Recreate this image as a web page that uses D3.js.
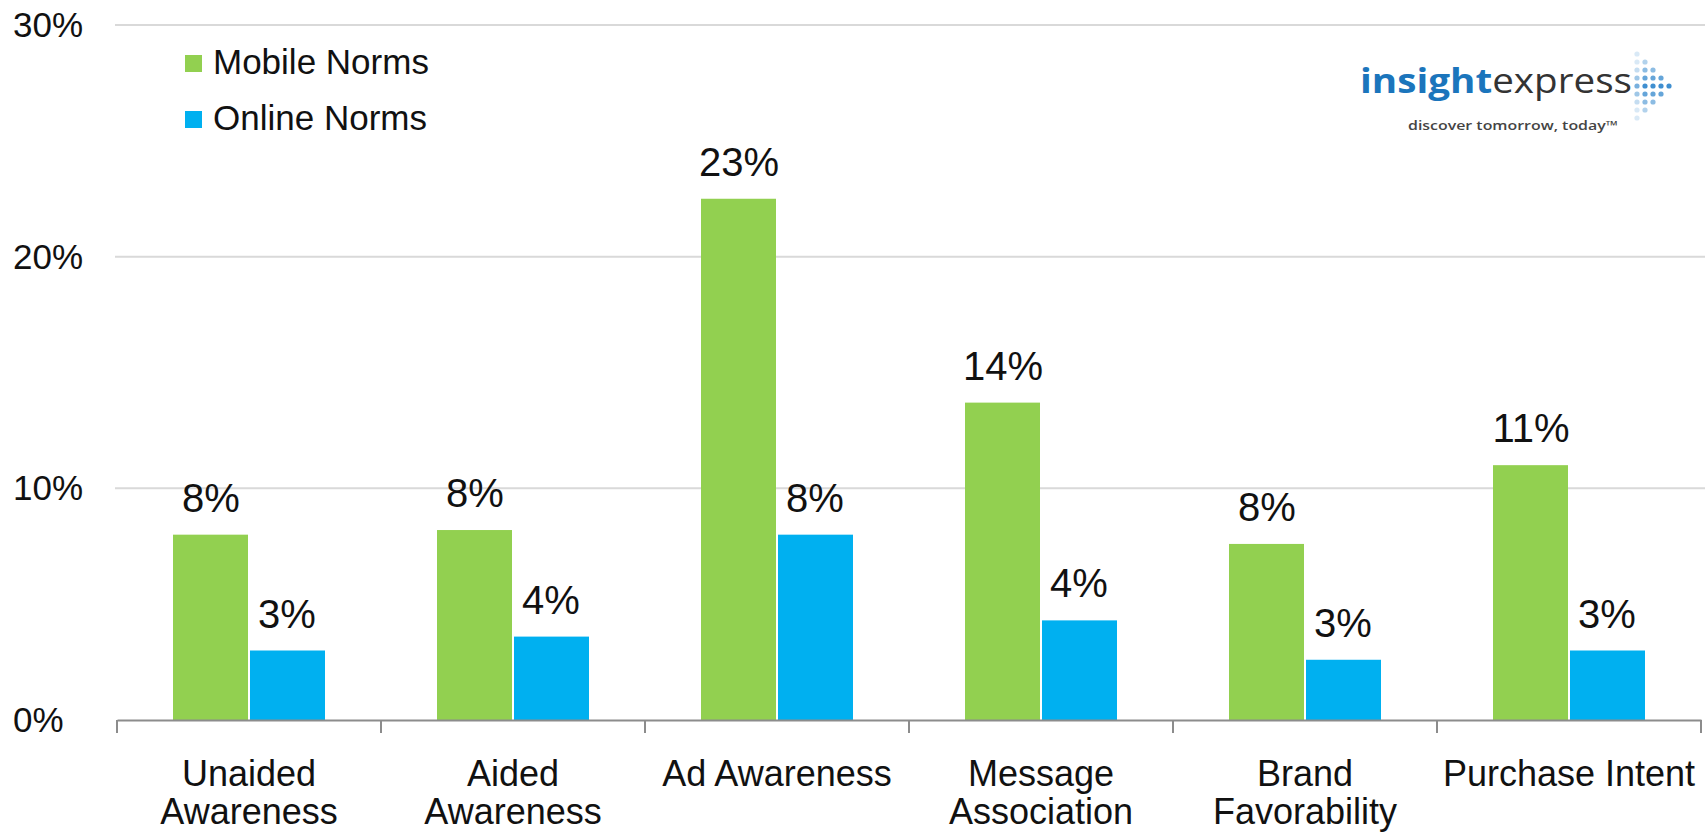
<!DOCTYPE html>
<html>
<head>
<meta charset="utf-8">
<script src="https://cdn.jsdelivr.net/npm/d3@7"></script>
<style>
  html, body { margin: 0; padding: 0; background: #fff; }
  svg { display: block; font-family: "Liberation Sans", Arial, sans-serif; }
</style>
</head>
<body>
<svg id="chart" width="1705" height="835"></svg>
<script>
const categories = ["Unaided\nAwareness", "Aided\nAwareness", "Ad Awareness", "Message\nAssociation", "Brand\nFavorability", "Purchase Intent"];
const seriesNames = ["Mobile Norms", "Online Norms"];
const mobileValues = [8.0, 8.2, 22.5, 13.7, 7.6, 11.0];
const onlineValues = [3.0, 3.6, 8.0, 4.3, 2.6, 3.0];
const yTicks = [0, 10, 20, 30];
const colors = ["#92d050", "#00b0f0"];

const svg = d3.select("#chart");
const width = 1705;

const x = d3.scaleBand()
    .domain(categories)
    .range([117, 1701]);

const x1 = d3.scaleBand()
    .domain(seriesNames)
    .range([56, 208]);

const y = d3.scaleLinear()
    .domain([0, 30])
    .range([720, 25]);

// gridlines
svg.append("g")
    .selectAll("line")
    .data(yTicks.filter(d => d > 0))
    .enter()
    .append("line")
    .attr("x1", 115)
    .attr("x2", width)
    .attr("y1", d => y(d))
    .attr("y2", d => y(d))
    .attr("stroke", "#d9d9d9")
    .attr("stroke-width", 2);

// y tick labels
svg.append("g")
    .selectAll("text")
    .data(yTicks)
    .enter()
    .append("text")
    .attr("x", 13)
    .attr("y", d => y(d) + 12)
    .text(d => d + "%")
    .style("font-size", "35px")
    .attr("fill", "#111");

// bars
const rows = categories.map((c, i) => ({ cat: c, values: [mobileValues[i], onlineValues[i]] }));

const groups = svg.append("g")
    .selectAll("g")
    .data(rows)
    .enter()
    .append("g")
    .attr("transform", d => `translate(${x(d.cat)},0)`);

groups.selectAll("rect")
    .data(d => d.values.map((v, j) => ({ name: seriesNames[j], value: v, idx: j })))
    .enter()
    .append("rect")
    .attr("x", d => x1(d.name) + (d.idx === 0 ? 0 : 1))
    .attr("width", x1.bandwidth() - 1)
    .attr("y", d => y(d.value))
    .attr("height", d => y(0) - y(d.value))
    .attr("fill", d => colors[d.idx]);

groups.selectAll("text")
    .data(d => d.values.map((v, j) => ({ name: seriesNames[j], value: v })))
    .enter()
    .append("text")
    .attr("x", d => x1(d.name) + x1.bandwidth() / 2)
    .attr("y", d => y(d.value) - 23)
    .attr("text-anchor", "middle")
    .style("font-size", "40px")
    .attr("fill", "#111")
    .text(d => Math.round(d.value) + "%");

// x axis
const xAxis = d3.axisBottom(x)
    .tickValues([])
    .tickSizeOuter(0);

const axisG = svg.append("g")
    .attr("transform", `translate(0,${y(0)})`)
    .call(xAxis);
axisG.select(".domain").attr("stroke", "#8c8c8c").attr("stroke-width", 2);

axisG.selectAll(".sep")
    .data(d3.range(categories.length + 1))
    .enter()
    .append("line")
    .attr("x1", i => x.range()[0] + i * x.step())
    .attr("x2", i => x.range()[0] + i * x.step())
    .attr("y1", 0)
    .attr("y2", 13)
    .attr("stroke", "#8c8c8c")
    .attr("stroke-width", 2);

// category labels
const catLabels = svg.append("g")
    .selectAll("text")
    .data(categories)
    .enter()
    .append("text")
    .attr("text-anchor", "middle")
    .attr("transform", d => `translate(${x(d) + x.bandwidth() / 2},786)`)
    .style("font-size", "36px")
    .attr("fill", "#111");

catLabels.selectAll("tspan")
    .data(d => d.split("\n"))
    .enter()
    .append("tspan")
    .attr("x", 0)
    .attr("y", (d, i) => i * 38)
    .text(d => d);

// legend
const legend = svg.append("g")
    .selectAll("g")
    .data(seriesNames)
    .enter()
    .append("g")
    .attr("transform", (d, i) => `translate(185,${55 + i * 56})`);

legend.append("rect")
    .attr("width", 17)
    .attr("height", 17)
    .attr("fill", (d, i) => colors[i]);

legend.append("text")
    .attr("x", 28)
    .attr("y", 19)
    .style("font-size", "35px")
    .attr("fill", "#111")
    .text(d => d);

// logo
const logo = svg.append("g");
const brand = logo.append("text")
    .attr("x", 1360)
    .attr("y", 93)
    .style("font-family", "'Open Sans', 'DejaVu Sans', sans-serif")
    .style("font-size", "34px");
brand.append("tspan").attr("font-weight", "bold").attr("fill", "#1b75bc").text("insight");
brand.append("tspan").attr("fill", "#333").text("express");
brand.attr("textLength", 272).attr("lengthAdjust", "spacingAndGlyphs");

logo.append("text")
    .attr("x", 1408)
    .attr("y", 130)
    .style("font-family", "'Open Sans', 'DejaVu Sans', sans-serif")
    .style("font-size", "13px")
    .attr("font-weight", "600")
    .attr("fill", "#444")
    .attr("textLength", 210)
    .attr("lengthAdjust", "spacingAndGlyphs")
    .text("discover tomorrow, today\u2122");

// dotted arrow beside the logo
const dotCols = [
    { x: 1637, rows: [-4, -3, -2, -1, 0, 1, 2, 3, 4] },
    { x: 1645, rows: [-3, -2, -1, 0, 1, 2, 3] },
    { x: 1653, rows: [-2, -1, 0, 1, 2] },
    { x: 1661, rows: [-1, 0, 1] },
    { x: 1669, rows: [0] }
];
dotCols.forEach((c, ci) => {
    logo.selectAll(null)
        .data(c.rows)
        .enter()
        .append("circle")
        .attr("cx", c.x)
        .attr("cy", r => 86 + r * 8)
        .attr("r", 2.6)
        .attr("fill", "#3f8fd0")
        .attr("opacity", r => Math.max(0.2, 1 - Math.abs(r) * 0.2 - (ci === 0 ? 0.3 : 0)));
});
</script>
</body>
</html>
